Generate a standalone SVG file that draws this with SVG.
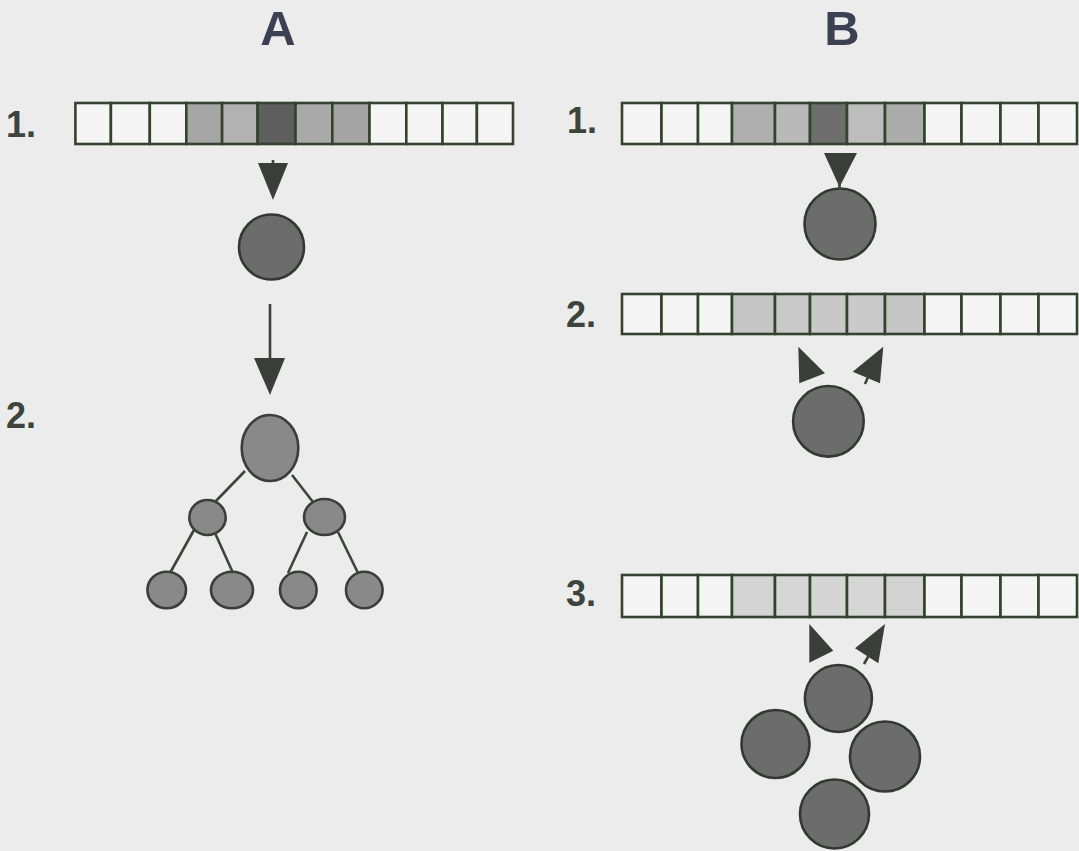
<svg xmlns="http://www.w3.org/2000/svg" width="1079" height="851" viewBox="0 0 1079 851">
  <style>
    .bg { fill: #ececec; }
    .title { font-family: "Liberation Sans", Arial, sans-serif; font-weight: bold; font-size: 49px; fill: #3b4152; text-anchor: middle; }
    .num { font-family: "Liberation Sans", Arial, sans-serif; font-weight: bold; font-size: 36px; fill: #3c443c; }
    .cell { stroke: #34432f; stroke-width: 2.6; }
    .c0 { fill: #f5f5f5; }
    .ball { fill: #6c6c6c; stroke: #333833; stroke-width: 2.6; }
    .tnode { fill: #898989; stroke: #3a3d3a; stroke-width: 2.6; }
    .edge { stroke: #3d443d; stroke-width: 2.6; fill: none; }
    .head { fill: #3a3d3a; stroke: none; }
  </style>
  <rect class="bg" x="0" y="0" width="1079" height="851"/>

  <!-- column headings -->
  <g id="heading-A"><text class="title" x="278" y="45">A</text></g>
  <g id="heading-B"><text class="title" x="842" y="45">B</text></g>

  <!-- step labels -->
  <g id="label-A1"><text class="num" x="6" y="137">1.</text></g>
  <g id="label-A2"><text class="num" x="6" y="428">2.</text></g>
  <g id="label-B1"><text class="num" x="567" y="133">1.</text></g>
  <g id="label-B2"><text class="num" x="566" y="327">2.</text></g>
  <g id="label-B3"><text class="num" x="566" y="606">3.</text></g>

  <!-- A, step 1: strip of twelve cells -->
  <g id="strip-A1">
    <rect class="cell c0" x="75.4" y="103" width="35.5" height="41"/>
    <rect class="cell c0" x="110.9" y="103" width="38.9" height="41"/>
    <rect class="cell c0" x="149.8" y="103" width="36.5" height="41"/>
    <rect class="cell" fill="#a6a6a6" x="186.3" y="103" width="35.8" height="41"/>
    <rect class="cell" fill="#b2b2b2" x="222.1" y="103" width="35.5" height="41"/>
    <rect class="cell" fill="#5e5e5e" x="257.6" y="103" width="37.9" height="41"/>
    <rect class="cell" fill="#aaaaaa" x="295.5" y="103" width="36.8" height="41"/>
    <rect class="cell" fill="#a4a4a4" x="332.3" y="103" width="37.2" height="41"/>
    <rect class="cell c0" x="369.5" y="103" width="36.8" height="41"/>
    <rect class="cell c0" x="406.3" y="103" width="36.2" height="41"/>
    <rect class="cell c0" x="442.5" y="103" width="34.4" height="41"/>
    <rect class="cell c0" x="476.9" y="103" width="36.1" height="41"/>
  </g>

  <g id="ball-A1"><circle class="ball" cx="271.5" cy="247" r="32.5"/></g>

  <!-- A, step 2: tree -->
  <g id="tree-root"><ellipse class="tnode" cx="270" cy="448" rx="28.3" ry="33"/></g>
  <g id="tree-mid-left"><ellipse class="tnode" cx="207.5" cy="517.5" rx="18.2" ry="17.5"/></g>
  <g id="tree-mid-right"><ellipse class="tnode" cx="324.5" cy="517" rx="20.5" ry="18"/></g>
  <g id="tree-leaf-1"><ellipse class="tnode" cx="166.7" cy="590" rx="19.3" ry="18.3"/></g>
  <g id="tree-leaf-2"><ellipse class="tnode" cx="232" cy="590" rx="21" ry="18.3"/></g>
  <g id="tree-leaf-3"><ellipse class="tnode" cx="298.3" cy="590" rx="18.3" ry="18.3"/></g>
  <g id="tree-leaf-4"><ellipse class="tnode" cx="364.3" cy="590" rx="18.3" ry="18.3"/></g>

  <!-- B, step 1 -->
  <g id="strip-B1">
    <rect class="cell c0" x="622" y="103" width="39.5" height="41"/>
    <rect class="cell c0" x="661.5" y="103" width="36.5" height="41"/>
    <rect class="cell c0" x="698" y="103" width="34" height="41"/>
    <rect class="cell" fill="#afafaf" x="732" y="103" width="43" height="41"/>
    <rect class="cell" fill="#b9b9b9" x="775" y="103" width="35" height="41"/>
    <rect class="cell" fill="#6e6e6e" x="810" y="103" width="37" height="41"/>
    <rect class="cell" fill="#bdbdbd" x="847" y="103" width="38" height="41"/>
    <rect class="cell" fill="#acacac" x="885" y="103" width="39.5" height="41"/>
    <rect class="cell c0" x="924.5" y="103" width="37" height="41"/>
    <rect class="cell c0" x="961.5" y="103" width="39" height="41"/>
    <rect class="cell c0" x="1000.5" y="103" width="38" height="41"/>
    <rect class="cell c0" x="1038.5" y="103" width="38.5" height="41"/>
  </g>
  <g id="ball-B1"><circle class="ball" cx="840" cy="224" r="35.5"/></g>

  <!-- B, step 2 -->
  <g id="strip-B2">
    <rect class="cell c0" x="622" y="294" width="39.5" height="40"/>
    <rect class="cell c0" x="661.5" y="294" width="36.5" height="40"/>
    <rect class="cell c0" x="698" y="294" width="34" height="40"/>
    <rect class="cell" fill="#c6c6c6" x="732" y="294" width="43" height="40"/>
    <rect class="cell" fill="#c9c9c9" x="775" y="294" width="35" height="40"/>
    <rect class="cell" fill="#c8c8c8" x="810" y="294" width="37" height="40"/>
    <rect class="cell" fill="#cacaca" x="847" y="294" width="38" height="40"/>
    <rect class="cell" fill="#c6c6c6" x="885" y="294" width="39.5" height="40"/>
    <rect class="cell c0" x="924.5" y="294" width="37" height="40"/>
    <rect class="cell c0" x="961.5" y="294" width="39" height="40"/>
    <rect class="cell c0" x="1000.5" y="294" width="38" height="40"/>
    <rect class="cell c0" x="1038.5" y="294" width="38.5" height="40"/>
  </g>
  <g id="ball-B2"><circle class="ball" cx="828.4" cy="421.3" r="35.3"/></g>

  <!-- B, step 3 -->
  <g id="strip-B3">
    <rect class="cell c0" x="622" y="575" width="39.5" height="42"/>
    <rect class="cell c0" x="661.5" y="575" width="36.5" height="42"/>
    <rect class="cell c0" x="698" y="575" width="34" height="42"/>
    <rect class="cell" fill="#d4d4d4" x="732" y="575" width="43" height="42"/>
    <rect class="cell" fill="#d6d6d6" x="775" y="575" width="35" height="42"/>
    <rect class="cell" fill="#d5d5d5" x="810" y="575" width="37" height="42"/>
    <rect class="cell" fill="#d7d7d7" x="847" y="575" width="38" height="42"/>
    <rect class="cell" fill="#d3d3d3" x="885" y="575" width="39.5" height="42"/>
    <rect class="cell c0" x="924.5" y="575" width="37" height="42"/>
    <rect class="cell c0" x="961.5" y="575" width="39" height="42"/>
    <rect class="cell c0" x="1000.5" y="575" width="38" height="42"/>
    <rect class="cell c0" x="1038.5" y="575" width="38.5" height="42"/>
  </g>
  <g id="ball-B3-top"><circle class="ball" cx="838.4" cy="698.5" r="33.5"/></g>
  <g id="ball-B3-left"><circle class="ball" cx="775.5" cy="744" r="34"/></g>
  <g id="ball-B3-right"><circle class="ball" cx="885" cy="756.5" r="35"/></g>
  <g id="ball-B3-bottom"><circle class="ball" cx="834.5" cy="814" r="34.5"/></g>

  <!-- connectors: arrows and tree edges -->
  <g id="connectors">
    <!-- A: strip to ball -->
    <line class="edge" x1="273" y1="160" x2="273" y2="172"/>
    <polygon class="head" points="258,163 288,163 273,200"/>
    <!-- A: ball to tree -->
    <line class="edge" x1="270" y1="304" x2="270" y2="362"/>
    <polygon class="head" points="254,358 285,358 270,395"/>
    <!-- tree edges -->
    <line class="edge" x1="245" y1="471" x2="215" y2="502"/>
    <line class="edge" x1="292" y1="475" x2="313" y2="502"/>
    <line class="edge" x1="194" y1="530" x2="170" y2="573"/>
    <line class="edge" x1="215" y1="533" x2="233" y2="573"/>
    <line class="edge" x1="307" y1="532" x2="288" y2="573"/>
    <line class="edge" x1="338" y1="532" x2="358" y2="573"/>
    <!-- B1: strip to ball -->
    <polygon class="head" points="824,153 857,153 839.5,187"/>
    <line class="edge" x1="839.5" y1="180" x2="839.5" y2="189"/>
    <!-- B2: ball to strip -->
    <polygon class="head" points="798.3,346.7 825,373.3 799.3,383.3"/>
    <polygon class="head" points="883.3,346.7 852.7,371.7 880,383.3"/>
    <line class="edge" x1="868.5" y1="376" x2="865" y2="384"/>
    <!-- B3: ball to strip -->
    <polygon class="head" points="809.3,624 833.3,650.7 809.3,662.7"/>
    <polygon class="head" points="885,624 855,648.3 878.3,663.3"/>
    <line class="edge" x1="868.5" y1="656" x2="864" y2="664"/>
  </g>
</svg>
